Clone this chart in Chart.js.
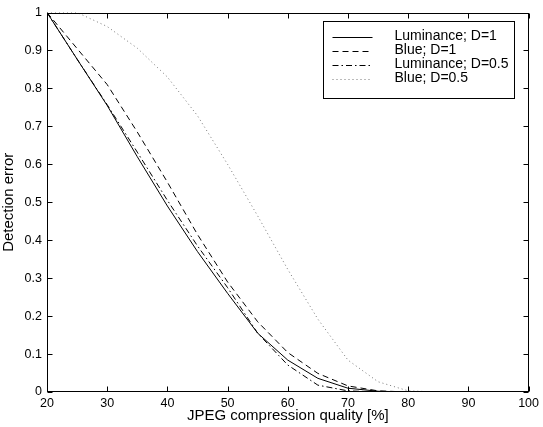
<!DOCTYPE html>
<html>
<head>
<meta charset="utf-8">
<script src="https://cdn.jsdelivr.net/npm/chart.js@4/dist/chart.umd.min.js"></script>
<style>
html,body{margin:0;padding:0;background:#fff;}
#wrap{width:543px;height:427px;position:relative;}
</style>
</head>
<body>
<div id="wrap"><canvas id="c" width="543" height="427"></canvas></div>
<script>
// JPEG quality (%) sample points
const quality = [20,25,30,35,40,45,50,55,60,65,70,75,80,85,90,95,100];
// Detection error per series
const lumD1  = [1,0.877,0.755,0.62,0.49,0.37,0.26,0.155,0.084,0.036,0.010,0.002,0,0,0,0,0];
const blueD1 = [1,0.905,0.81,0.685,0.553,0.415,0.29,0.185,0.104,0.049,0.016,0.003,0,0,0,0,0];
const lumD05 = [1,0.877,0.757,0.632,0.505,0.385,0.275,0.155,0.071,0.018,0.003,0,0,0,0,0,0];
const blueD05= [1,1,0.963,0.906,0.83,0.728,0.60,0.464,0.323,0.192,0.084,0.027,0.003,0,0,0,0];
const seriesLabels = ['Luminance; D=1','Blue; D=1','Luminance; D=0.5','Blue; D=0.5'];
const xTicks = [20,30,40,50,60,70,80,90,100];
const yTicks = [0,0.1,0.2,0.3,0.4,0.5,0.6,0.7,0.8,0.9,1];

const FONT = "'Liberation Sans', Arial, Helvetica, sans-serif";
const pts = arr => arr.map((v,i)=>({x:quality[i], y:v}));

const styles = [
  {borderColor:'#000', borderDash:[]},
  {borderColor:'#000', borderDash:[6,4]},
  {borderColor:'#000', borderDash:[6,3,1.5,3]},
  {borderColor:'#777', borderDash:[1,3]}
];
const allData = [lumD1, blueD1, lumD05, blueD05];

const datasets = allData.map((d,i)=>({
  label: seriesLabels[i],
  data: pts(d),
  borderColor: styles[i].borderColor,
  borderDash: styles[i].borderDash,
  borderWidth: 1,
  pointRadius: 0,
  tension: 0,
  fill: false
}));

const framePlugin = {
  id:'frame',
  afterDatasetsDraw(chart){
    const {ctx, chartArea:a, scales:{x,y}} = chart;
    ctx.save();
    ctx.strokeStyle='#000';
    ctx.lineWidth=1;
    ctx.setLineDash([]);
    const L=Math.round(a.left)+0.5, R=Math.round(a.right)-0.5, T=Math.round(a.top)+0.5, B=Math.round(a.bottom)-0.5;
    ctx.strokeRect(L, T, R-L, B-T);
    const tl=5;
    ctx.beginPath();
    xTicks.forEach(v=>{
      const px=Math.round(x.getPixelForValue(v))+0.5;
      ctx.moveTo(px,B); ctx.lineTo(px,B-tl);
      ctx.moveTo(px,T); ctx.lineTo(px,T+tl);
    });
    yTicks.forEach(v=>{
      const py=Math.round(y.getPixelForValue(v))+0.5;
      ctx.moveTo(L,py); ctx.lineTo(L+tl,py);
      ctx.moveTo(R,py); ctx.lineTo(R-tl,py);
    });
    ctx.stroke();
    // legend box
    const bx=Math.round(a.right)-205.5, by=Math.round(a.top)+8.5, bw=191, bh=77;
    ctx.fillStyle='#fff';
    ctx.fillRect(bx,by,bw,bh);
    ctx.strokeRect(bx,by,bw,bh);
    ctx.font = "14px "+FONT;
    ctx.textBaseline='middle';
    ctx.textAlign='left';
    chart.data.datasets.forEach((ds,i)=>{
      const ry = by + 15 + i*14;
      ctx.save();
      ctx.strokeStyle = ds.borderColor;
      ctx.setLineDash(ds.borderDash);
      ctx.beginPath();
      ctx.moveTo(bx+9, Math.round(ry)+0.5);
      ctx.lineTo(bx+49, Math.round(ry)+0.5);
      ctx.stroke();
      ctx.restore();
      ctx.fillStyle='#000';
      ctx.fillText(ds.label, bx+71, ry);
    });
    ctx.restore();
  }
};

new Chart(document.getElementById('c'), {
  type:'line',
  data:{datasets},
  options:{
    responsive:false,
    animation:false,
    devicePixelRatio:1,
    layout:{padding:{left:0,top:12,right:11,bottom:0}},
    plugins:{legend:{display:false}, tooltip:{enabled:false}},
    scales:{
      x:{
        type:'linear', min:20, max:100,
        afterBuildTicks: s => { s.ticks = xTicks.map(v=>({value:v})); },
        afterFit: s => { s.height = 35; },
        grid:{display:false, drawTicks:false},
        border:{display:false},
        ticks:{color:'#000', font:{family:FONT, size:12.5}, padding:4, maxRotation:0, autoSkip:false},
        title:{display:true, text:'JPEG compression quality [%]', color:'#000', font:{family:FONT,size:15}, padding:{top:0,bottom:2}}
      },
      y:{
        type:'linear', min:0, max:1,
        afterBuildTicks: s => { s.ticks = yTicks.map(v=>({value:v})); },
        afterFit: s => { s.width = 47; },
        grid:{display:false, drawTicks:false},
        border:{display:false},
        ticks:{color:'#000', font:{family:FONT, size:12.5}, padding:5, callback:v=>String(v)},
        title:{display:true, text:'Detection error', color:'#000', font:{family:FONT,size:15}, padding:{top:0,bottom:0}}
      }
    }
  },
  plugins:[framePlugin]
});
</script>
</body>
</html>
